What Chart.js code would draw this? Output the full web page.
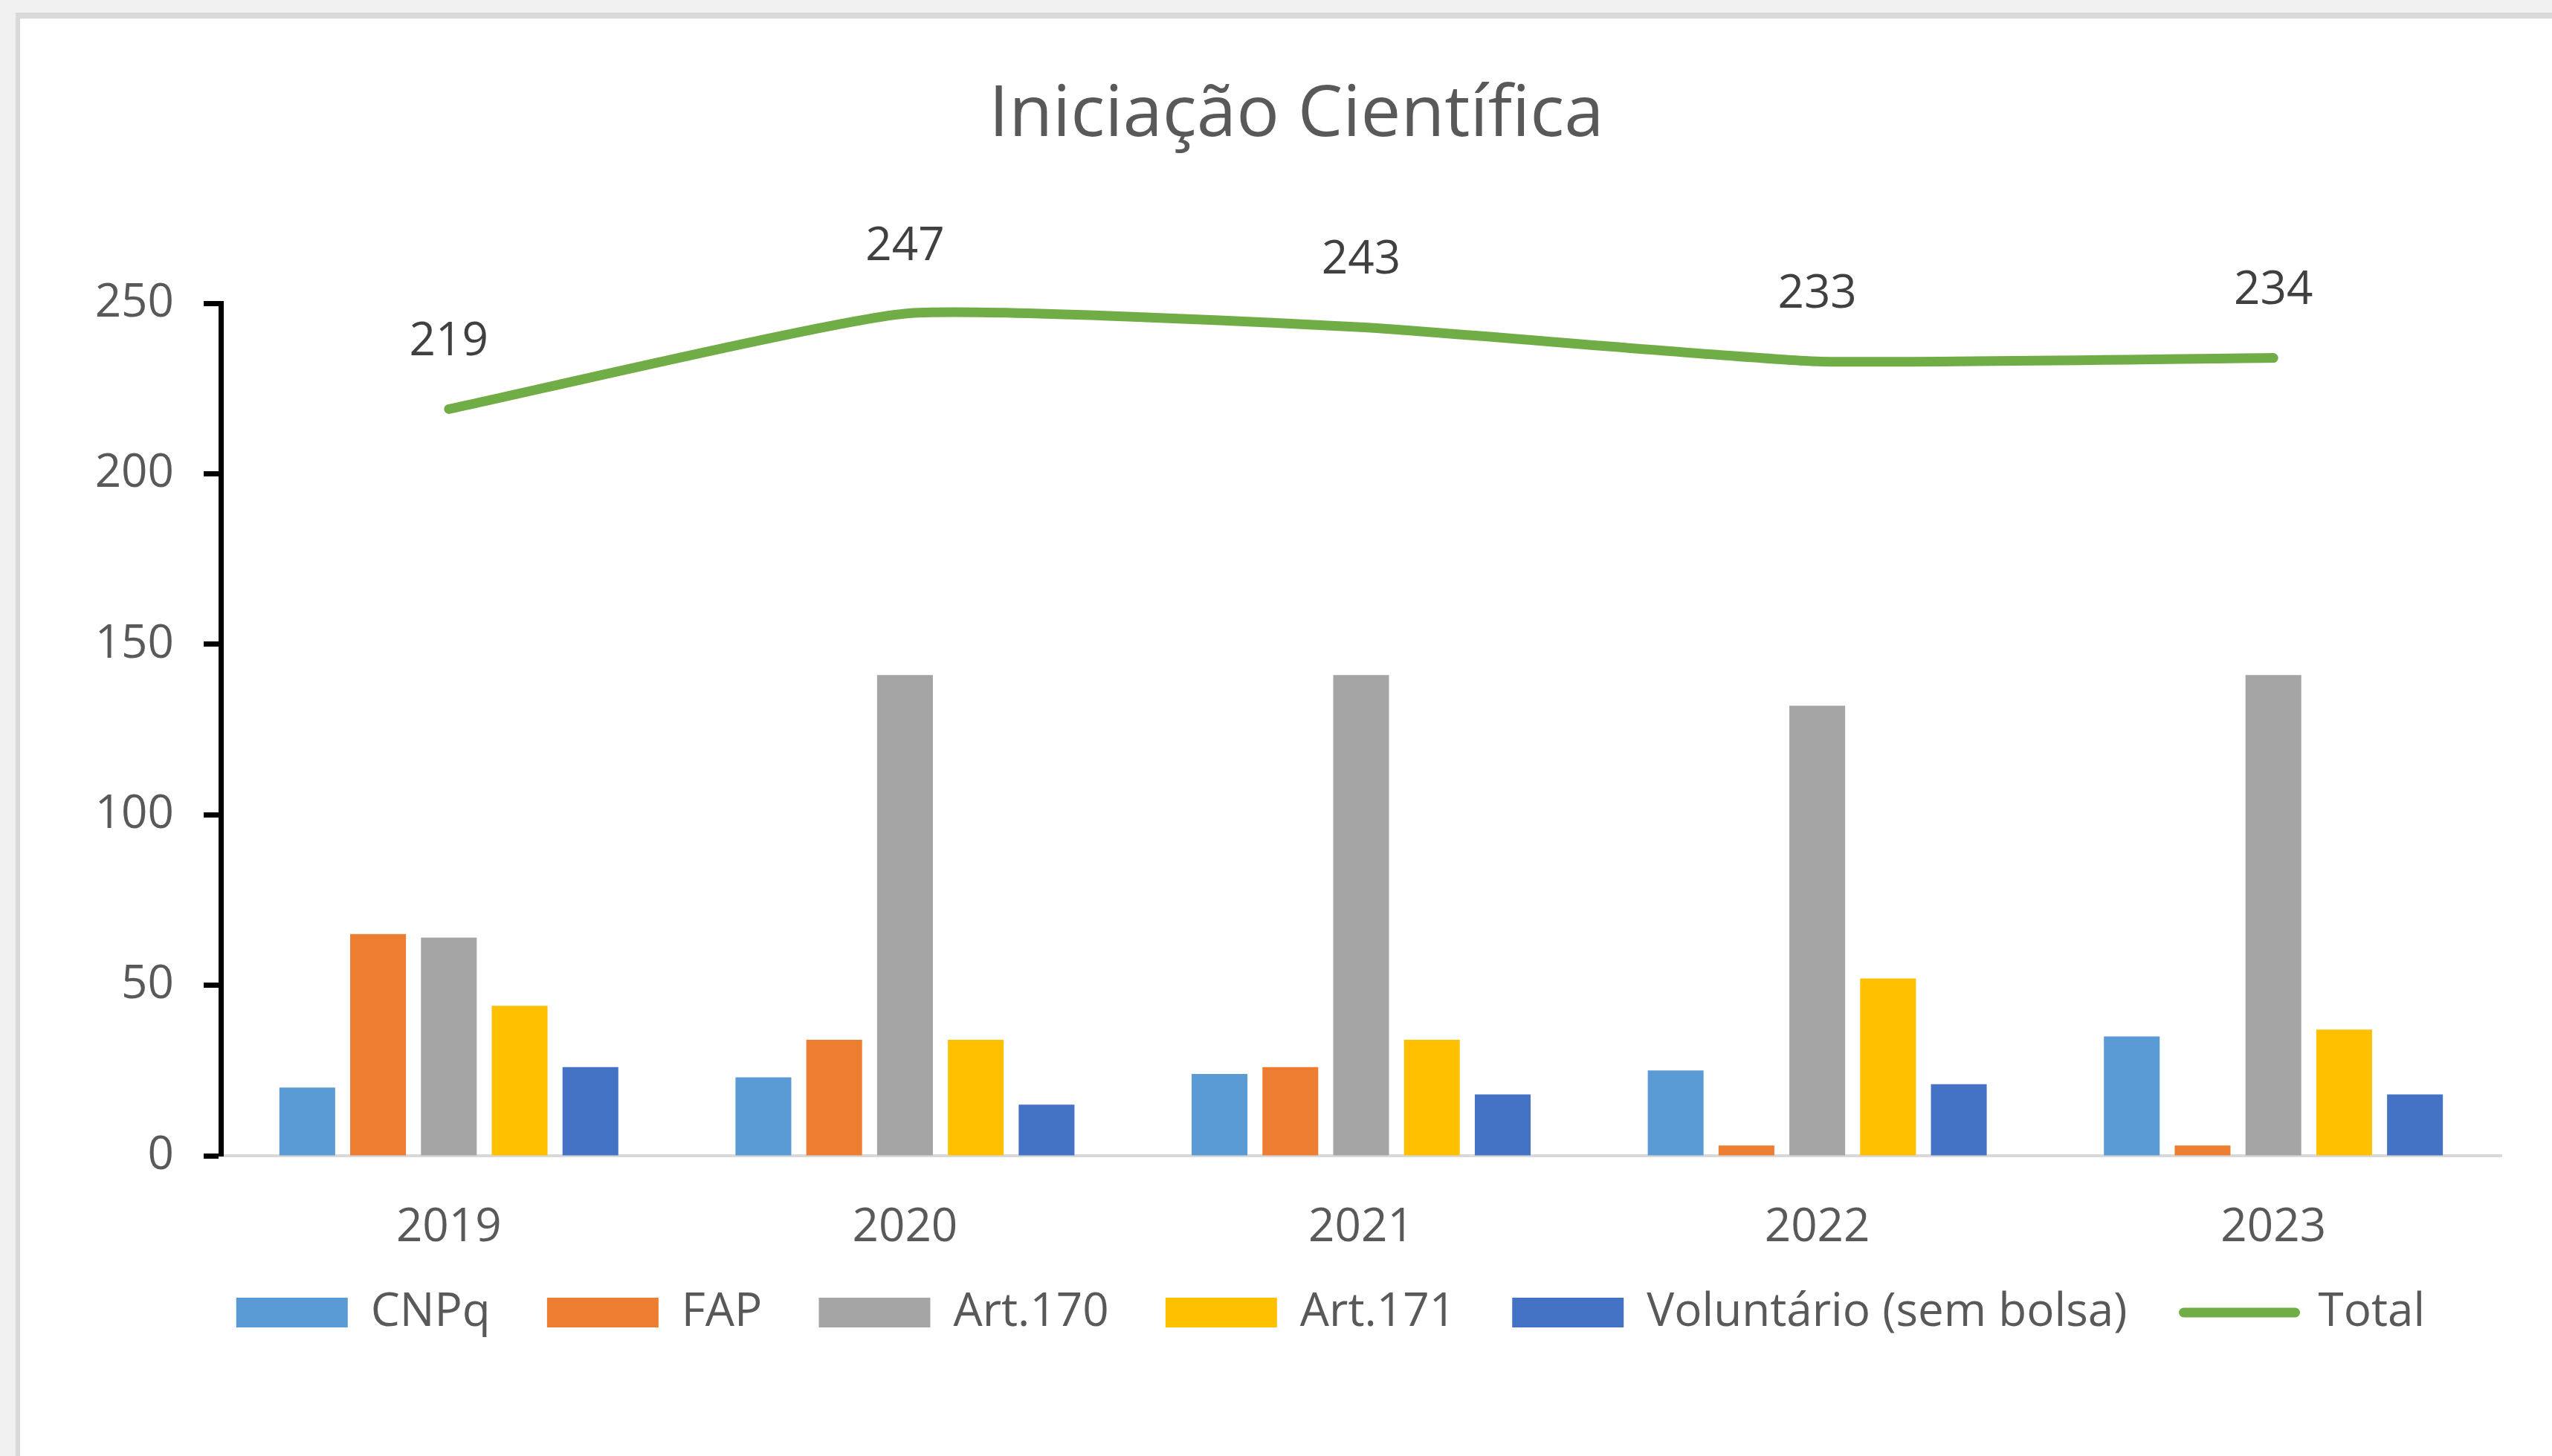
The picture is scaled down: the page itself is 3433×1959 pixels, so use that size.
<!DOCTYPE html>
<html>
<head>
<meta charset="utf-8">
<title>Iniciação Científica</title>
<script src="https://cdn.jsdelivr.net/npm/chart.js@4.4.0/dist/chart.umd.min.js"></script>
<style>
    body { margin: 0; background: #f0f0f0; overflow: hidden; }
    #panel {
        position: absolute; left: 21px; top: 17px;
        width: 3406px; height: 1934px;
        border-top: 8px solid #d9d9d9; border-left: 6px solid #d9d9d9;
        background: #fff;
    }
    #chart { display: block; }
</style>
</head>
<body>
<div id="panel"><canvas id="chart" width="3406" height="1934"></canvas></div>
<script>
const anos = ['2019', '2020', '2021', '2022', '2023'];
const cnpq = [20, 23, 24, 25, 35];
const fap = [65, 34, 26, 3, 3];
const art170 = [64, 141, 141, 132, 141];
const art171 = [44, 34, 34, 52, 37];
const voluntario = [26, 15, 18, 21, 18];
const total = [219, 247, 243, 233, 234];
const yTicks = [0, 50, 100, 150, 200, 250];

const FONT = "'Open Sans', sans-serif";
const textColor = '#595959';

// rótulos do Total acima da linha
const totalLabels = {
    id: 'totalLabels',
    afterDatasetsDraw(chart) {
        const ctx = chart.ctx;
        const meta = chart.getDatasetMeta(5);
        ctx.save();
        ctx.font = '62px ' + FONT;
        ctx.fillStyle = '#404040';
        ctx.textAlign = 'center';
        ctx.textBaseline = 'middle';
        meta.data.forEach((pt, i) => {
            ctx.fillText(String(total[i]), pt.x, pt.y - 90);
        });
        ctx.restore();
    }
};

// legenda um pouco deslocada para a direita (centrada no gráfico, não no canvas)
const legendShift = {
    id: 'legendShift',
    afterLayout(chart) {
        chart.legend.left += 46;
        chart.legend.right += 46;
    }
};

function bar(label, data, color) {
    return {
        type: 'bar', label: label, data: data,
        backgroundColor: color, borderWidth: 0,
        categoryPercentage: 0.776, barPercentage: 0.788
    };
}

const ctx = document.getElementById('chart').getContext('2d');
const chart = new Chart(ctx, {
    data: {
        labels: anos,
        datasets: [
            bar('CNPq', cnpq, '#5b9bd5'),
            bar('FAP', fap, '#ed7d31'),
            bar('Art.170', art170, '#a5a5a5'),
            bar('Art.171', art171, '#ffc000'),
            bar('Voluntário (sem bolsa)', voluntario, '#4472c4'),
            {
                type: 'line', label: 'Total', data: total,
                borderColor: '#70ad47', backgroundColor: '#70ad47',
                borderWidth: 13, borderCapStyle: 'round', borderJoinStyle: 'round',
                pointRadius: 0, tension: 0.15, fill: false
            }
        ]
    },
    options: {
        responsive: false,
        animation: false,
        layout: { padding: { left: 96, right: 68, top: 0, bottom: 152 } },
        plugins: {
            title: {
                display: true,
                text: 'Iniciação Científica',
                color: textColor,
                font: { family: FONT, size: 96, weight: 'normal' },
                padding: { top: 73, bottom: 195 }
            },
            legend: {
                position: 'bottom',
                labels: {
                    color: textColor,
                    font: { family: FONT, size: 62 },
                    usePointStyle: true,
                    pointStyleWidth: 150,
                    boxHeight: 40,
                    padding: 60,
                    generateLabels(chart) {
                        const items = Chart.defaults.plugins.legend.labels.generateLabels(chart);
                        items.forEach(it => {
                            if (it.datasetIndex === 5) {
                                it.pointStyle = 'line';
                                it.lineWidth = 13;
                                it.lineCap = 'round';
                            } else {
                                it.pointStyle = 'rect';
                                it.lineWidth = 0;
                                it.text = it.text + ' ';
                            }
                        });
                        return items;
                    }
                }
            },
            tooltip: { enabled: false }
        },
        scales: {
            x: {
                grid: { display: false, drawTicks: false },
                border: { color: '#d9d9d9', width: 4 },
                ticks: { color: textColor, font: { family: FONT, size: 62 }, padding: 60 },
                afterFit(scale) { scale.height = 120; }
            },
            y: {
                min: 0, max: 250,
                grid: {
                    drawOnChartArea: false, drawTicks: true,
                    tickLength: 23, tickWidth: 7, tickColor: '#000'
                },
                border: { color: '#000', width: 7 },
                afterBuildTicks(scale) { scale.ticks = yTicks.map(v => ({ value: v })); },
                ticks: { color: textColor, font: { family: FONT, size: 62 }, padding: 40 },
                afterFit(scale) { scale.width = 174; }
            }
        }
    },
    plugins: [totalLabels, legendShift]
});
</script>
</body>
</html>
